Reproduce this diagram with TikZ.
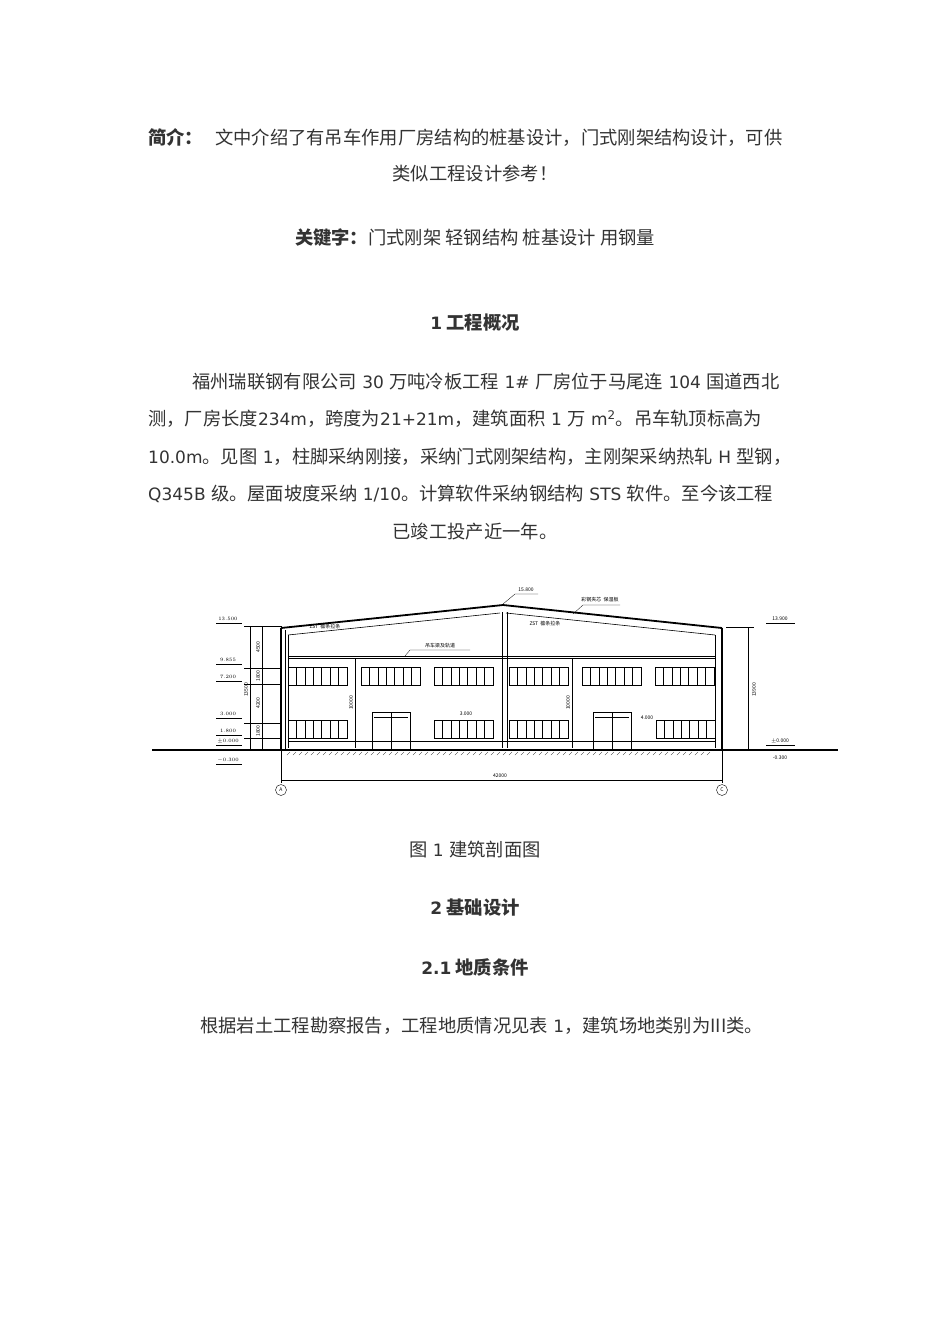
\documentclass[tikz,border=0pt]{standalone}
\usepackage{fontspec}
\setmainfont{Noto Sans CJK SC}
\newfontfamily\lat{DejaVu Sans}
\definecolor{txt}{HTML}{333333}
\newcommand{\Lt}[1]{{\lat\fontsize{17}{17}\selectfont #1}}
\begin{document}
\begin{tikzpicture}[x=1pt,y=-1pt,
  body/.style={inner sep=0pt,font=\fontsize{18.3}{18}\selectfont,text=txt},
  head/.style={body,font=\fontsize{18.3}{18}\selectfont\bfseries},
  tiny/.style={inner sep=0pt,font=\fontsize{5}{5}\selectfont},
  thin/.style={line width=0.6pt},
  thick/.style={line width=1.8pt}]
\path[use as bounding box,fill=white] (0,0) rectangle (950,1344);
% text
\node[body,anchor=west] (l1) at (148,137) {\textbf{简介：}\hspace{12pt}文中介绍了有吊车作用厂房结构的桩基设计，门式刚架结构设计，可供};
\node[body] (l2) at (475,174) {类似工程设计参考！};
\node[body] (kw) at (475,238) {\textbf{关键字：}门式刚架 轻钢结构 桩基设计 用钢量};
\node[head] (h1) at (475,323) {\Lt{\bfseries 1} 工程概况};
\node[body,anchor=west] (p1) at (192,382) {福州瑞联钢有限公司\Lt{ 30 }万吨冷板工程\Lt{ 1\# }厂房位于马尾连\Lt{ 104 }国道西北};
\node[body,anchor=west] (p2) at (148,419) {测，厂房长度\Lt{234m}，跨度为\Lt{21+21m}，建筑面积\Lt{ 1 }万\Lt{ m\textsuperscript{2}}。吊车轨顶标高为};
\node[body,anchor=west] (p3) at (148,457) {\Lt{10.0m}。见图\Lt{ 1}，柱脚采纳刚接，采纳门式刚架结构，主刚架采纳热轧\Lt{ H }型钢，};
\node[body,anchor=west] (p4) at (148,494) {\Lt{Q345B }级。屋面坡度采纳\Lt{ 1/10}。计算软件采纳钢结构\Lt{ STS }软件。至今该工程};
\node[body] (p5) at (475,532) {已竣工投产近一年。};
\node[body] (cap) at (475,849) {图\Lt{ 1 }建筑剖面图};
\node[head] (h2) at (475,908) {\Lt{\bfseries 2} 基础设计};
\node[head] (h3) at (475,967) {\Lt{\bfseries 2.1} 地质条件};
\node[body,anchor=west] (q1) at (200,1026) {根据岩土工程勘察报告，工程地质情况见表\Lt{ 1}，建筑场地类别为III类。};
% drawing
\draw[thick] (152,750) -- (838,750);
\draw[thick] (281,628) -- (503,605) -- (722,628);
\draw[thick] (281,628) -- (281,750);
\draw[thick] (722,628) -- (722,750);
\draw[thin] (285,630) -- (285,750);
\draw[thin] (288,635) -- (500,613) (506,613) -- (715,635);
\draw[thin] (288,635) -- (288,748) (715,635)--(715,748);
\draw[thin] (288,656) -- (715,656) (288,658) -- (715,658);
\draw[thin] (502,612) -- (502,748) (507,612) -- (507,748);
\draw[thin] (288,741) -- (715,741);
\draw[thin] (281,750) -- (281,783) (722,750) -- (722,783);
\foreach \x/\y in {288/667,361/667,434/667,509/667,582/667,655/667,288/720,434/720,509/720,656/720}{
  \draw[thin] (\x,\y) rectangle ++(59,18);
  \foreach \i in {1,...,6} \draw[thin] (\x+\i*8.43,\y) -- ++(0,18);
}
\foreach \x in {372,593}{
  \draw[thin] (\x,712) rectangle ++(38,37);
  \draw[thin] (\x+19,712) -- ++(0,37);
  \draw[thin] (\x+2,717) -- ++(34,0);
}
\foreach \x in {290,296,...,712} \draw[line width=0.3pt] (\x,752) -- ++(-3,3);
\draw[thin] (355,658) -- (355,748) (572,658) -- (572,748);
\node[tiny,rotate=90] (d1) at (351,703) {10000};
\node[tiny,rotate=90] (d2) at (568,703) {10000};
\draw[thin] (250,626) -- (250,750) (262,626) -- (262,750);
\foreach \y in {626,668,684,723,738,750} \draw[thin] (244,\y) -- (282,\y);
\node[tiny,rotate=90] (d3) at (258,647) {4500};
\node[tiny,rotate=90] (d4) at (258,676) {1800};
\node[tiny,rotate=90] (d5) at (258,703) {4200};
\node[tiny,rotate=90] (d6) at (258,731) {1800};
\node[tiny,rotate=90] (d7) at (246,690) {13500};
\foreach \t/\y in {13.500/619,9.855/660,7.200/677,3.000/714,1.800/731,{\pm0.000}/741,-0.300/760}{
  \node[tiny] at (228,\y) {$\t$};
  \draw[line width=0.3pt] (216,\y+4) -- (242,\y+4);
}
\draw[thin] (748,627) -- (748,750);
\draw[thin] (726,627) -- (754,627);
\node[tiny,rotate=90] (d8) at (754,690) {13900};
\node[tiny] (e1) at (780,619) {13.900};
\node[tiny] (e2) at (780,741) {$\pm$0.000};
\node[tiny] (e3) at (780,758) {-0.300};
\draw[line width=0.3pt] (766,623) -- (795,623) (766,745) -- (795,745);
\node[tiny] (r1) at (526,590) {15.800};
\draw[line width=0.3pt] (515,594) -- (538,594) (515,594) -- (503,604);
\node[tiny] (r2) at (600,600) {彩钢夹芯\ \ 保温板};
\draw[line width=0.3pt] (583,605) -- (620,605) (583,605)--(573,614);
\node[tiny] (r3) at (545,624) {ZST\ \ 檩条拉条};
\node[tiny] (r4) at (325,627) {ZST\ \ 檩条拉条};
\node[tiny] (r5) at (440,646) {吊车梁及轨道};
\draw[line width=0.3pt] (410,650) -- (470,650) (410,650) -- (405,656);
\node[tiny] (r6) at (466,714) {3.000};
\node[tiny] (r7) at (647,718) {4.000};
\draw[thin] (281,780) -- (722,780);
\node[tiny] (dim) at (500,776) {42000};
\node[draw,circle,minimum size=11pt,inner sep=0pt,font=\fontsize{5}{5}\selectfont] (A) at (281,790) {A};
\node[draw,circle,minimum size=11pt,inner sep=0pt,font=\fontsize{5}{5}\selectfont] (C) at (722,790) {C};
\end{tikzpicture}
\end{document}
